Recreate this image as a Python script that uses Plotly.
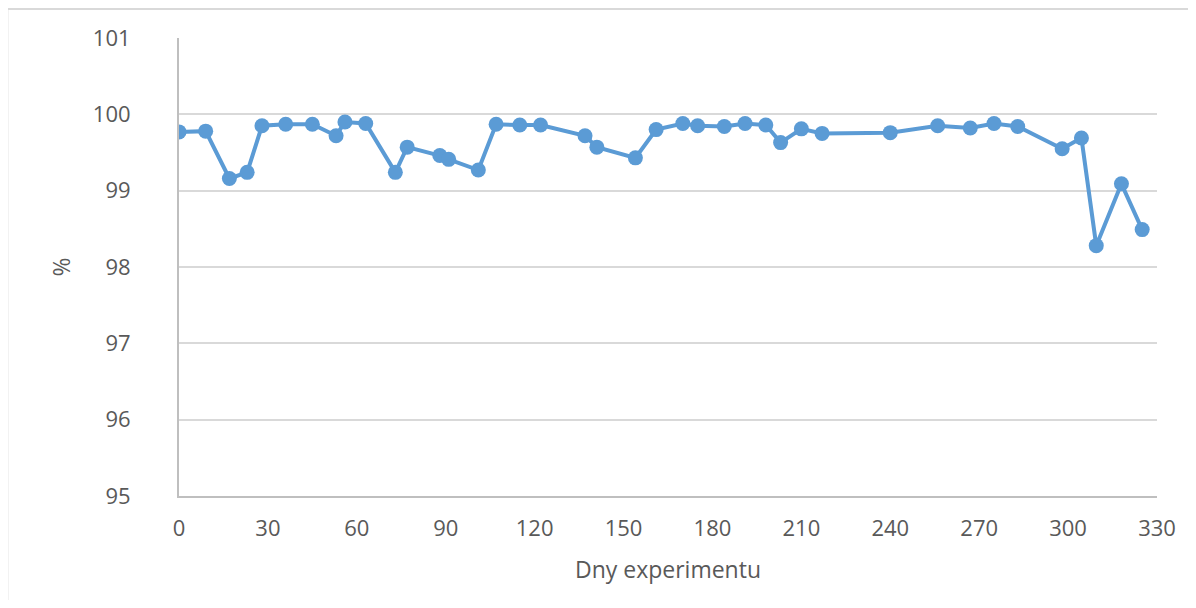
import plotly.graph_objects as go

days = [0, 9, 17, 23, 28, 36, 45, 53, 56, 63, 73, 77, 88, 91, 101, 107, 115, 122,
        137, 141, 154, 161, 170, 175, 184, 191, 198, 203, 210, 217, 240, 256, 267,
        275, 283, 298, 304.5, 309.5, 318, 325]
values = [99.77, 99.78, 99.16, 99.24, 99.85, 99.87, 99.87, 99.72, 99.90, 99.88,
          99.24, 99.57, 99.46, 99.41, 99.27, 99.87, 99.86, 99.86, 99.72, 99.57,
          99.43, 99.80, 99.88, 99.85, 99.84, 99.88, 99.86, 99.63, 99.81, 99.75,
          99.76, 99.85, 99.82, 99.88, 99.84, 99.55, 99.69, 98.28, 99.09, 98.49]

x_ticks = list(range(0, 331, 30))
y_ticks = [95, 96, 97, 98, 99, 100, 101]

FONT = "Open Sans"
TXT = "#595959"

fig = go.Figure()
fig.add_trace(go.Scatter(
    x=days, y=values, mode="lines+markers",
    line=dict(color="#5b9bd5", width=4),
    marker=dict(color="#5b9bd5", size=15),
    showlegend=False,
))

# page body has 8px margin; figure placed at (8, 8)
OFF = 8
W, H = 1180, 592
L, T = 179 - OFF, 38 - OFF
R = W - (1159 - OFF)
B = H - (496 - OFF)
pw, ph = W - L - R, H - T - B

fig.update_layout(
    width=W, height=H,
    margin=dict(l=L, r=R, t=T, b=B),
    paper_bgcolor="white", plot_bgcolor="white",
    font=dict(family=FONT, size=22, color=TXT),
    xaxis=dict(
        range=[0, 330], tickvals=x_ticks, ticktext=[str(v) for v in x_ticks],
        showgrid=False, zeroline=False, showline=True, linecolor="#bfbfbf", linewidth=2,
        ticks="", ticklabelstandoff=12,
        title=dict(text="Dny experimentu", standoff=20, font=dict(size=23, color=TXT)),
    ),
    yaxis=dict(
        range=[95, 101], tickvals=y_ticks, ticktext=[str(v) for v in y_ticks],
        showgrid=True, gridcolor="#d9d9d9", gridwidth=2,
        zeroline=False, showline=True, linecolor="#bfbfbf", linewidth=2,
        ticks="", ticklabelstandoff=42,
        title=dict(text="%", standoff=16, font=dict(size=23, color=TXT)),
    ),
    shapes=[
        dict(type="line", xref="paper", yref="paper",
             x0=(7 - 179) / pw, x1=(W + 20 - L) / pw,
             y0=(496 - 9) / ph, y1=(496 - 9) / ph,
             line=dict(color="#d9d9d9", width=2)),
        dict(type="line", xref="paper", yref="paper",
             x0=(7 - 179) / pw, x1=(7 - 179) / pw,
             y0=(496 - 9) / ph, y1=-(B + 20) / ph,
             line=dict(color="#d9d9d9", width=2)),
    ],
)

fig.write_html("out.html")
